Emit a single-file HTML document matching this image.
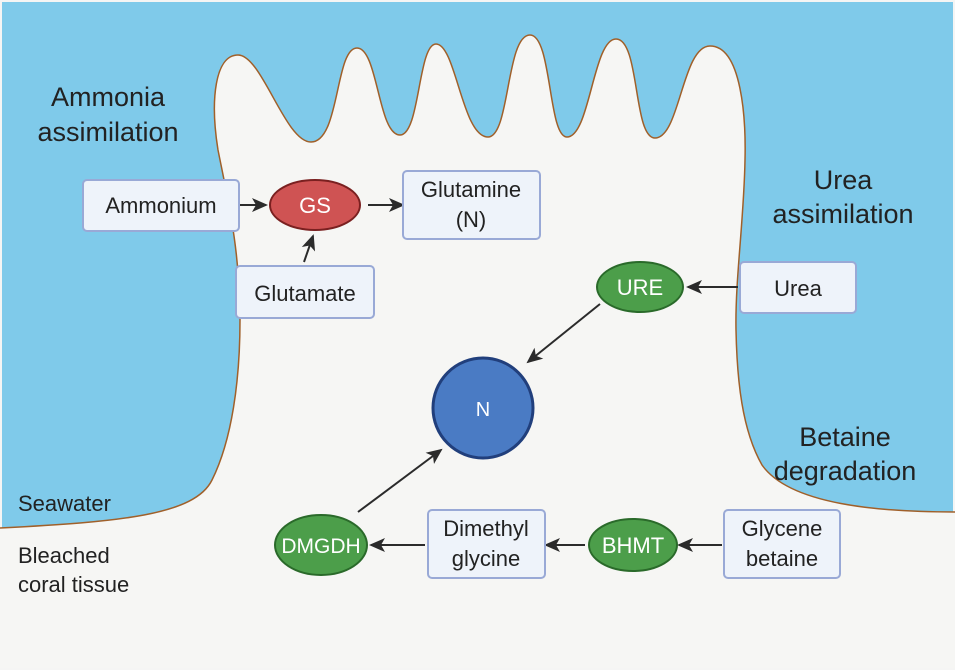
<!DOCTYPE html>
<html><head><meta charset="utf-8"><style>
html,body{margin:0;padding:0;background:#fff;}
svg{display:block;font-family:"Liberation Sans",sans-serif;}
</style></head><body>
<svg width="955" height="670" viewBox="0 0 955 670" xmlns="http://www.w3.org/2000/svg">
<defs><marker id="a" markerWidth="16" markerHeight="16" refX="14" refY="8" orient="auto" markerUnits="userSpaceOnUse"><path d="M0,1 L16,8 L0,15 L4,8 z" fill="#2b2b2b"/></marker></defs>
<rect x="0" y="0" width="955" height="670" fill="#f5f5f4"/>
<rect x="2" y="2" width="951" height="666" fill="#7fcaea"/>
<path d="M0,528 C120,522 195,515 212,480 C232,440 240,380 240,320 C240,250 228,200 218,150 C210,100 215,55 238,55 C262,55 285,142 311,142 C340,142 335,48 357,48 C378,48 378,135 400,135 C420,135 418,44 436,44 C456,44 462,137 488,137 C510,137 506,35 530,35 C552,35 548,137 567,137 C590,137 593,39 616,39 C640,39 633,138 655,138 C680,138 682,46 710,46 C742,46 746,120 745,160 C744,220 735,280 736,330 C737,380 742,430 762,465 C790,505 880,512 955,512 L955,668 L0,668 Z" fill="#f6f6f4"/>
<path d="M0,528 C120,522 195,515 212,480 C232,440 240,380 240,320 C240,250 228,200 218,150 C210,100 215,55 238,55 C262,55 285,142 311,142 C340,142 335,48 357,48 C378,48 378,135 400,135 C420,135 418,44 436,44 C456,44 462,137 488,137 C510,137 506,35 530,35 C552,35 548,137 567,137 C590,137 593,39 616,39 C640,39 633,138 655,138 C680,138 682,46 710,46 C742,46 746,120 745,160 C744,220 735,280 736,330 C737,380 742,430 762,465 C790,505 880,512 955,512" fill="none" stroke="#a0602a" stroke-width="1.5"/>
<g fill="#222" font-size="27" text-anchor="middle">
<text x="108" y="106">Ammonia</text><text x="108" y="141">assimilation</text>
<text x="843" y="189">Urea</text><text x="843" y="223">assimilation</text>
<text x="845" y="446">Betaine</text><text x="845" y="480">degradation</text>
</g>
<g fill="#222" font-size="22">
<text x="18" y="511">Seawater</text>
<text x="18" y="563">Bleached</text><text x="18" y="592">coral tissue</text>
</g>
<g stroke="#2b2b2b" stroke-width="2" fill="none" marker-end="url(#a)">
<line x1="222" y1="205" x2="266" y2="205"/>
<line x1="368" y1="205" x2="403" y2="205"/>
<line x1="304" y1="262" x2="313" y2="236"/>
<line x1="738" y1="287" x2="688" y2="287"/>
<line x1="600" y1="304" x2="528" y2="362"/>
<line x1="358" y1="512" x2="441" y2="450"/>
<line x1="425" y1="545" x2="371" y2="545"/>
<line x1="585" y1="545" x2="546" y2="545"/>
<line x1="722" y1="545" x2="679" y2="545"/>
</g>
<g fill="#eef3fa" stroke="#99a9d6" stroke-width="2">
<rect x="83" y="180" width="156" height="51" rx="4"/>
<rect x="403" y="171" width="137" height="68" rx="4"/>
<rect x="236" y="266" width="138" height="52" rx="4"/>
<rect x="740" y="262" width="116" height="51" rx="4"/>
<rect x="428" y="510" width="117" height="68" rx="4"/>
<rect x="724" y="510" width="116" height="68" rx="4"/>
</g>
<g fill="#222" font-size="22" text-anchor="middle">
<text x="161" y="213">Ammonium</text>
<text x="471" y="197">Glutamine</text><text x="471" y="227">(N)</text>
<text x="305" y="301">Glutamate</text>
<text x="798" y="296">Urea</text>
<text x="486" y="536">Dimethyl</text><text x="486" y="566">glycine</text>
<text x="782" y="536">Glycene</text><text x="782" y="566">betaine</text>
</g>
<ellipse cx="315" cy="205" rx="45" ry="25" fill="#cf5353" stroke="#7a2020" stroke-width="2"/>
<ellipse cx="640" cy="287" rx="43" ry="25" fill="#4c9e4a" stroke="#2a6a2a" stroke-width="2"/>
<circle cx="483" cy="408" r="50" fill="#4a7bc4" stroke="#213f7c" stroke-width="3"/>
<ellipse cx="321" cy="545" rx="46" ry="30" fill="#4c9e4a" stroke="#2a6a2a" stroke-width="2"/>
<ellipse cx="633" cy="545" rx="44" ry="26" fill="#4c9e4a" stroke="#2a6a2a" stroke-width="2"/>
<g fill="#fff" font-size="22" text-anchor="middle">
<text x="315" y="213">GS</text>
<text x="640" y="295">URE</text>
<text x="483" y="416" font-size="20">N</text>
<text x="321" y="553" font-size="21">DMGDH</text>
<text x="633" y="553">BHMT</text>
</g>
</svg>
</body></html>
